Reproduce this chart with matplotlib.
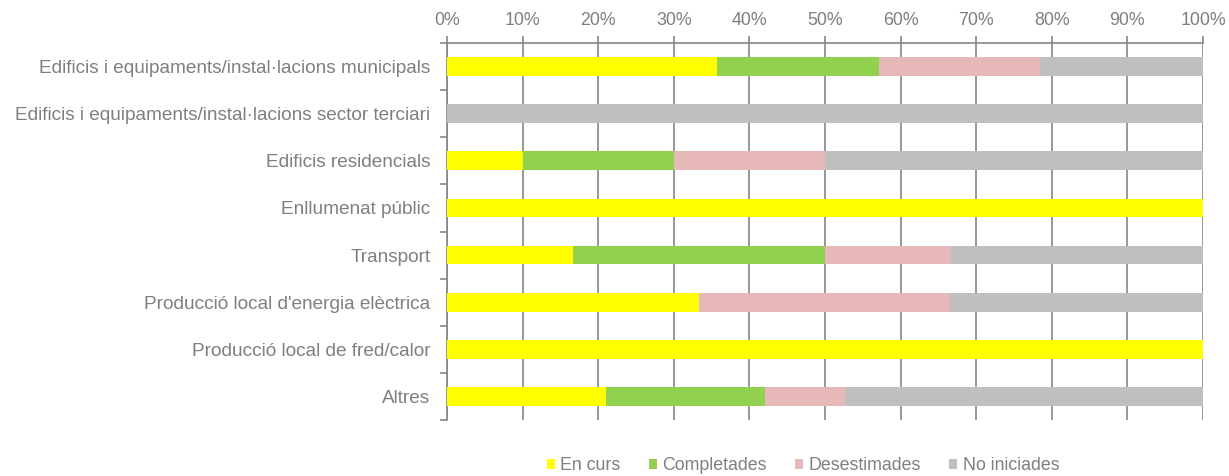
import numpy as np
import matplotlib
matplotlib.use("Agg")
import matplotlib.pyplot as plt
from matplotlib.ticker import FixedLocator, PercentFormatter

plt.rcParams['font.family'] = ['Liberation Sans', 'DejaVu Sans']

categories = [
    "Edificis i equipaments/instal·lacions municipals",
    "Edificis i equipaments/instal·lacions sector terciari",
    "Edificis residencials",
    "Enllumenat públic",
    "Transport",
    "Producció local d'energia elèctrica",
    "Producció local de fred/calor",
    "Altres",
]
series_names = ["En curs", "Completades", "Desestimades", "No iniciades"]
en_curs = [35.7, 0, 10, 100, 16.7, 33.3, 100, 21.05]
completades = [21.4, 0, 20, 0, 33.3, 0, 0, 21.05]
desestimades = [21.4, 0, 20, 0, 16.7, 33.3, 0, 10.5]
no_iniciades = [21.5, 100, 50, 0, 33.3, 33.4, 0, 47.4]
colors = ["#FFFF00", "#92D050", "#E6B9B8", "#BFBFBF"]

TXT = "#7F7F7F"
AX = "#868686"

fig = plt.figure(figsize=(12.29, 4.76), dpi=100)
ax = fig.add_axes([447 / 1229, 1 - 420 / 476, 756 / 1229, 377 / 476])

y = np.arange(len(categories))
left = np.zeros(len(categories))
for name, vals, c in zip(series_names, [en_curs, completades, desestimades, no_iniciades], colors):
    ax.barh(y, vals, left=left, height=0.4, color=c, label=name, zorder=3)
    left += np.array(vals)

ax.set_xlim(0, 100)
ax.set_ylim(len(categories) - 0.5, -0.5)
ax.xaxis.tick_top()
ax.set_xticks(np.arange(0, 101, 10))
ax.xaxis.set_major_formatter(PercentFormatter(decimals=0))
ax.tick_params(axis='x', colors=AX, labelcolor=TXT, labelsize=12.8, length=5, width=1.2, pad=5)
ax.grid(axis='x', color=AX, lw=1.2, zorder=1)

ax.set_yticks(y)
ax.set_yticklabels(categories)
ax.tick_params(axis='y', which='major', length=0, labelcolor=TXT, labelsize=13.7, pad=12)
ax.yaxis.set_minor_locator(FixedLocator(np.arange(-0.5, len(categories), 1)))
ax.tick_params(axis='y', which='minor', length=5, width=1.2, color=AX)

for s in ['right', 'bottom']:
    ax.spines[s].set_visible(False)
for s in ['top', 'left']:
    ax.spines[s].set_color(AX)
    ax.spines[s].set_linewidth(1.2)

fig.legend(loc='center', bbox_to_anchor=(803 / 1229, 1 - 466 / 476), ncol=4, frameon=False,
           fontsize=12.8, labelcolor=TXT, handlelength=0.45, handleheight=0.45,
           handletextpad=0.3, columnspacing=1.6, borderpad=0)

fig.savefig("out.png", dpi=100)
